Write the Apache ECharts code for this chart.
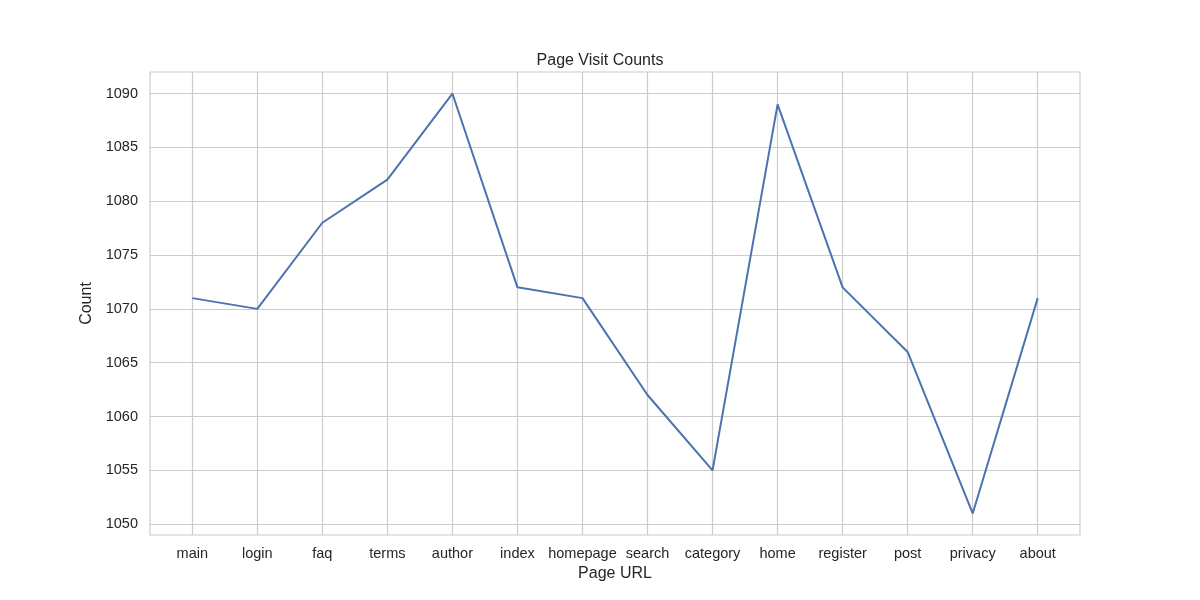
<!DOCTYPE html>
<html><head><meta charset="utf-8">
<script src="https://cdn.jsdelivr.net/npm/echarts@6/dist/echarts.min.js"></script>
<style>html,body{margin:0;background:#fff}#c{width:1200px;height:600px}</style>
</head><body><div id="c"></div>
<script>
const categories=["main","login","faq","terms","author","index","homepage","search","category","home","register","post","privacy","about"];
const counts=[1071,1070,1078,1082,1090,1072,1071,1062,1055,1089,1072,1066,1051,1071];
const yTicks=[1050,1055,1060,1065,1070,1075,1080,1085,1090];
const xIdx=categories.map((_,i)=>i);
const F='Liberation Sans';
const chart=echarts.init(document.getElementById('c'));
const grid='#cccccc';
chart.setOption({
  animation:false,
  title:{text:'Page Visit Counts',left:'center',top:48,textStyle:{fontFamily:F,fontSize:16,fontWeight:'normal',color:'#262626'}},
  grid:{left:150,right:120,top:72,bottom:65,show:true,borderColor:grid,borderWidth:1.2},
  xAxis:{type:'value',min:-0.65,max:13.65,name:'Page URL',nameLocation:'middle',nameGap:19,
    nameTextStyle:{fontFamily:F,fontSize:16,color:'#262626'},
    axisLine:{show:false},axisTick:{show:false,customValues:xIdx},
    axisLabel:{customValues:xIdx,formatter:v=>categories[Math.round(v)],fontFamily:F,fontSize:14.5,color:'#262626',margin:11},
    splitLine:{show:true,lineStyle:{color:grid,width:1.2}}},
  yAxis:{type:'value',min:1049,max:1092,name:'Count',nameLocation:'middle',nameGap:52,
    nameTextStyle:{fontFamily:F,fontSize:16,color:'#262626'},
    axisLine:{show:false},axisTick:{show:false,customValues:yTicks},
    axisLabel:{customValues:yTicks,formatter:v=>String(v),fontFamily:F,fontSize:14.5,color:'#262626',margin:12},
    splitLine:{show:true,lineStyle:{color:grid,width:1.2}}},
  series:[{type:'line',data:counts.map((v,i)=>[xIdx[i],v]),showSymbol:false,lineStyle:{color:'#4c72b0',width:2},color:'#4c72b0'}]
});
</script></body></html>
